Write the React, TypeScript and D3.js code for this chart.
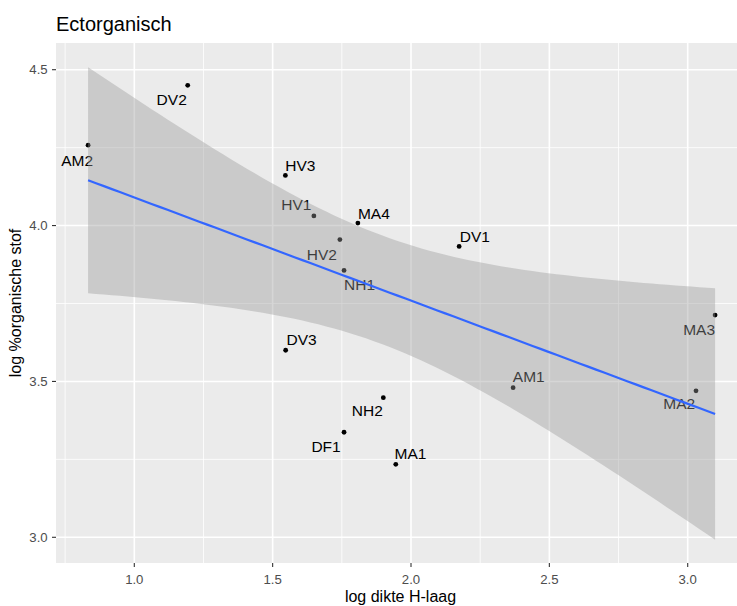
import React from "react";
import * as d3 from "d3";

const sites = ["AM2", "DV2", "HV3", "HV1", "MA4", "HV2", "NH1", "DV1", "MA3", "MA2", "NH2", "DF1", "MA1", "DV3", "AM1"];
const logDikte = [0.833, 1.193, 1.546, 1.649, 1.808, 1.743, 1.758, 2.174, 3.099, 3.030, 1.900, 1.758, 1.945, 1.547, 2.369];
const logOrganisch = [4.258, 4.450, 4.161, 4.031, 4.008, 3.955, 3.856, 3.933, 3.713, 3.470, 3.448, 3.337, 3.234, 3.600, 3.480];
const xTicks = [1.0, 1.5, 2.0, 2.5, 3.0];
const yTicks = [3.0, 3.5, 4.0, 4.5];
const xMinor = [0.75, 1.25, 1.75, 2.25, 2.75];
const yMinor = [3.25, 3.75, 4.25];
// label placement (pixel offsets of label centre from point), layout only
const labelDx = [-11, -16, 15, -17.5, 16, -18, 15.5, 15.7, -16, -16.7, -16, -18, 14.7, 16, 15.7];
const labelDy = [15, 14, -10, -11, -10, 15, 14, -10, 14, 12.7, 13, 13.7, -11, -11, -11];

const T_CRIT = 2.160; // t(0.975, df = 13)

export default function App() {
  const W = 737, H = 606;
  const left = 56, top = 43, bottom = 563;
  const x = d3.scaleLinear().domain([1.0, 3.0]).range([134.3, 687.7]);
  const y = d3.scaleLinear().domain([3.0, 4.5]).range([537.3, 69.7]);
  const right = 746;

  // linear model
  const n = logDikte.length;
  const mx = d3.mean(logDikte)!;
  const my = d3.mean(logOrganisch)!;
  let sxx = 0, sxy = 0;
  for (let i = 0; i < n; i++) {
    sxx += (logDikte[i] - mx) ** 2;
    sxy += (logDikte[i] - mx) * (logOrganisch[i] - my);
  }
  const b = sxy / sxx;
  const a = my - b * mx;
  let sse = 0;
  for (let i = 0; i < n; i++) sse += (logOrganisch[i] - (a + b * logDikte[i])) ** 2;
  const s = Math.sqrt(sse / (n - 2));
  const [xmin, xmax] = d3.extent(logDikte) as [number, number];
  const grid = d3.range(80).map((i) => xmin + ((xmax - xmin) * i) / 79);
  const fit = grid.map((gx) => {
    const yh = a + b * gx;
    const se = s * Math.sqrt(1 / n + (gx - mx) ** 2 / sxx);
    return { gx, yh, lo: yh - T_CRIT * se, hi: yh + T_CRIT * se };
  });
  const area = d3.area<any>().x((d) => x(d.gx)).y0((d) => y(d.lo)).y1((d) => y(d.hi));
  const line = d3.line<any>().x((d) => x(d.gx)).y((d) => y(d.yh));

  const font = "'Liberation Sans', Arial, sans-serif";
  const labelSize = 15.5;

  return (
    <svg width={W} height={H} style={{ position: "absolute", left: 0, top: 0, fontFamily: font }}>
      <rect x={0} y={0} width={W} height={H} fill="#FFFFFF" />
      <text x={56} y={31} fontSize={20} fill="#000">Ectorganisch</text>
      <rect x={left} y={top} width={right - left} height={bottom - top} fill="#EBEBEB" />
      {xMinor.map((v) => (
        <line key={"xm" + v} x1={x(v)} x2={x(v)} y1={top} y2={bottom} stroke="#FFFFFF" strokeWidth={0.8} />
      ))}
      {yMinor.map((v) => (
        <line key={"ym" + v} x1={left} x2={right} y1={y(v)} y2={y(v)} stroke="#FFFFFF" strokeWidth={0.8} />
      ))}
      {xTicks.map((v) => (
        <line key={"xg" + v} x1={x(v)} x2={x(v)} y1={top} y2={bottom} stroke="#FFFFFF" strokeWidth={1.6} />
      ))}
      {yTicks.map((v) => (
        <line key={"yg" + v} x1={left} x2={right} y1={y(v)} y2={y(v)} stroke="#FFFFFF" strokeWidth={1.6} />
      ))}
      {sites.map((sname, i) => (
        <circle key={"p" + sname} cx={x(logDikte[i])} cy={y(logOrganisch[i])} r={2.4} fill="#000" />
      ))}
      {sites.map((sname, i) => (
        <text
          key={"l" + sname}
          x={x(logDikte[i]) + labelDx[i]}
          y={y(logOrganisch[i]) + labelDy[i] + labelSize * 0.36}
          fontSize={labelSize}
          textAnchor="middle"
          fill="#000"
        >
          {sname}
        </text>
      ))}
      <path d={area(fit) || ""} fill="#999999" fillOpacity={0.4} />
      <path d={line(fit) || ""} fill="none" stroke="#3366FF" strokeWidth={2.2} />
      {xTicks.map((v) => (
        <g key={"xt" + v}>
          <line x1={x(v)} x2={x(v)} y1={bottom} y2={bottom + 4} stroke="#333333" strokeWidth={1.1} />
          <text x={x(v)} y={583.7} fontSize={13.2} textAnchor="middle" fill="#4D4D4D">{v.toFixed(1)}</text>
        </g>
      ))}
      {yTicks.map((v) => (
        <g key={"yt" + v}>
          <line x1={left - 4} x2={left} y1={y(v)} y2={y(v)} stroke="#333333" strokeWidth={1.1} />
          <text x={47.7} y={y(v) + 4.7} fontSize={13.2} textAnchor="end" fill="#4D4D4D">{v.toFixed(1)}</text>
        </g>
      ))}
      <text x={400.5} y={602} fontSize={16} textAnchor="middle" fill="#000">log dikte H-laag</text>
      <text transform={`translate(20.5, ${(top + bottom) / 2}) rotate(-90)`} fontSize={16} textAnchor="middle" fill="#000">
        log %organische stof
      </text>
    </svg>
  );
}
